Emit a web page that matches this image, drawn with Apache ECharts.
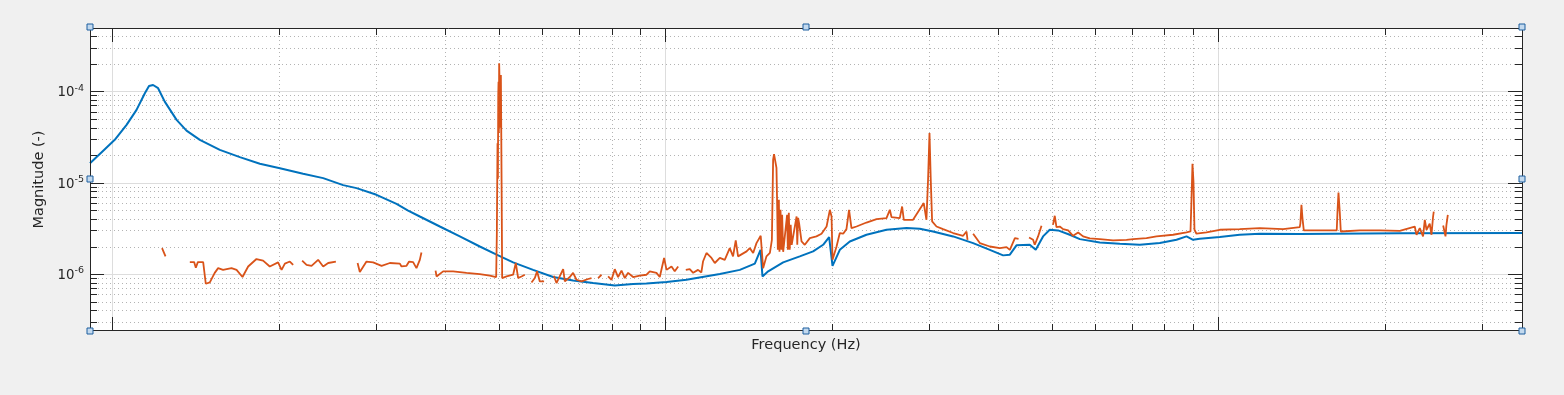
<!DOCTYPE html>
<html><head><meta charset="utf-8">
<script src="https://cdn.jsdelivr.net/npm/echarts@6/dist/echarts.min.js"></script>
<style>html,body{margin:0;padding:0;background:#f0f0f0;}#c{width:1564px;height:395px;}</style>
</head><body><div id="c"></div>
<script>
// ---------- data ----------
const blueFreq = [0.912, 0.970, 1.011, 1.062, 1.107, 1.146, 1.166, 1.186, 1.211, 1.245, 1.308, 1.363, 1.441, 1.566, 1.702, 1.850, 2.011, 2.215, 2.408, 2.617, 2.767, 3.007, 3.268, 3.430, 3.601, 3.914, 4.254, 4.623, 4.957, 5.311, 5.772, 6.273, 6.817, 7.410, 8.11, 8.75, 9.25, 10.06, 10.93, 12.56, 13.65, 14.53, 14.88, 15.00, 15.36, 16.35, 17.52, 18.52, 19.31, 19.80, 20.08, 20.70, 21.58, 23.13, 25.14, 27.33, 28.88, 30.52, 33.18, 36.06, 38.66, 40.86, 42.02, 43.19, 45.65, 46.80, 48.25, 49.61, 51.36, 53.93, 56.23, 61.11, 66.42, 72.18, 78.46, 84.12, 87.69, 90.13, 92.66, 100.7, 109.4, 119.0, 140.5, 213.1, 354.5];
const blueMag = [1.63e-5, 2.32e-5, 2.94e-5, 4.29e-5, 6.25e-5, 9.51e-5, 1.14e-4, 1.17e-4, 1.08e-4, 7.70e-5, 4.86e-5, 3.71e-5, 2.94e-5, 2.28e-5, 1.90e-5, 1.61e-5, 1.44e-5, 1.25e-5, 1.12e-5, 9.39e-6, 8.71e-6, 7.36e-6, 5.86e-6, 4.95e-6, 4.26e-6, 3.31e-6, 2.58e-6, 2.00e-6, 1.63e-6, 1.34e-6, 1.11e-6, 9.27e-7, 8.51e-7, 7.97e-7, 7.50e-7, 7.78e-7, 7.90e-7, 8.18e-7, 8.66e-7, 1.00e-6, 1.11e-6, 1.30e-6, 1.84e-6, 9.41e-7, 1.07e-6, 1.34e-6, 1.56e-6, 1.77e-6, 2.09e-6, 2.54e-6, 1.23e-6, 1.84e-6, 2.27e-6, 2.69e-6, 3.05e-6, 3.18e-6, 3.13e-6, 2.92e-6, 2.58e-6, 2.18e-6, 1.84e-6, 1.60e-6, 1.63e-6, 2.06e-6, 2.09e-6, 1.84e-6, 2.58e-6, 3.05e-6, 3.00e-6, 2.69e-6, 2.41e-6, 2.21e-6, 2.14e-6, 2.09e-6, 2.18e-6, 2.37e-6, 2.58e-6, 2.37e-6, 2.43e-6, 2.54e-6, 2.69e-6, 2.76e-6, 2.74e-6, 2.79e-6, 2.81e-6];

const orangeFreq = [
1.231, 1.249, null,
1.382, 1.407, 1.417, 1.429, 1.461, 1.477, 1.502, 1.533, 1.555, 1.587, 1.644, 1.679, 1.721, 1.762, 1.824, 1.875, 1.928, 1.996, 2.025, 2.053, 2.096, 2.125, null,
2.206, 2.247, 2.294, 2.358, 2.408, 2.459, 2.539, null,
2.779, 2.805, 2.884, 2.965, 3.071, 3.179, 3.314, 3.337, 3.407, 3.444, 3.502, 3.551, 3.601, 3.626, null,
3.845, 3.861, 3.968, 4.137, 4.374, 4.623, 4.819, 4.949, 4.963, 4.977, 4.985, 4.992, 4.998, 5.004, 5.011, 5.032, 5.040, 5.047, 5.062, 5.074, 5.168, 5.311, 5.370, 5.423, 5.499, 5.576, null,
5.733, 5.813, 5.868, 5.935, 6.042, null,
6.291, 6.362, 6.541, 6.587, 6.726, 6.817, 6.915, 7.061, 7.258, 7.361, null,
7.565, 7.674, null,
7.887, 8.000, 8.110, 8.222, 8.340, 8.456, 8.573, 8.753, 9.000, 9.256, 9.383, 9.647, 9.781, 9.958, 10.06, 10.27, 10.41, 10.56, null,
10.90, 11.08, 11.24, 11.47, 11.63, 11.71, 11.88, 12.13, 12.30, 12.56, 12.82, 13.09, 13.27, 13.42, 13.55, 14.04, 14.23, 14.43, 14.63, 14.89, 15.04, 15.25, 15.47,
15.60, 15.68, 15.74, 15.83, 15.90, 15.94, 15.99, 16.06, 16.10, 16.17, 16.23, 16.28, 16.35, 16.46, 16.62, 16.67, 16.74, 16.80, 16.87, 16.94, 17.04, 17.29, 17.34, 17.40,
17.47, 17.65, 17.89, 18.27, 18.78, 19.18, 19.59, 19.86, 20.00, 20.08, 20.42, 20.70, 20.99, 21.28, 21.51, 21.73, 22.19, 23.13, 24.12, 25.14, 25.49, 25.67, 26.57, 26.83, 27.02, 28.08, 29.36, 29.69, 29.89, 30.07, 30.23, 30.40, 30.96, 31.82, 33.18, 34.59, 35.08, 35.23, null,
36.06, 37.08, 38.66, 40.30, 41.45, 42.02, 42.91, 43.57, null,
45.52, 46.29, 46.61, 47.26, 47.94, null,
50.30, 50.66, 51.02, 51.73, 52.45, 53.56, 54.68, 55.84, 57.00, 58.61, 61.11, 64.58, 68.29, 70.21, 74.22, 77.38, 82.92, 87.69, 89.15, 89.52, 89.89, 90.26, 90.64, 91.39, 95.28, 100.7, 109.4, 119.0, 131.1, 140.5, 140.9, 141.5, 142.1, 142.9, 152.7, 163.9, 164.4, 165.1, 166.0, 166.7, 180.4, 196.1, 213.1, 226.8, 228.5, 231.6, 234.8, 236.5, 238.2, 241.4, 243.2, 244.8, 245.5, null,
255.3, 257.8, 258.8, 260.3];
const orangeMag = [
1.92e-6, 1.56e-6, null,
1.35e-6, 1.35e-6, 1.17e-6, 1.35e-6, 1.35e-6, 7.83e-7, 8.09e-7, 1.03e-6, 1.16e-6, 1.11e-6, 1.16e-6, 1.11e-6, 9.27e-7, 1.21e-6, 1.46e-6, 1.40e-6, 1.21e-6, 1.34e-6, 1.11e-6, 1.30e-6, 1.37e-6, 1.26e-6, null,
1.40e-6, 1.26e-6, 1.23e-6, 1.43e-6, 1.21e-6, 1.32e-6, 1.37e-6, null,
1.32e-6, 1.05e-6, 1.37e-6, 1.34e-6, 1.23e-6, 1.32e-6, 1.30e-6, 1.21e-6, 1.23e-6, 1.37e-6, 1.35e-6, 1.16e-6, 1.43e-6, 1.72e-6, null,
1.09e-6, 9.41e-7, 1.07e-6, 1.07e-6, 1.03e-6, 1.00e-6, 9.58e-7, 9.27e-7, 2.81e-6, 2.70e-5, 1.10e-5, 9.00e-5, 1.27e-4, 3.50e-5, 2.02e-4, 2.02e-4, 4.00e-5, 1.51e-4, 9.87e-6, 9.04e-7, 9.41e-7, 9.82e-7, 1.32e-6, 9.04e-7, 9.41e-7, 9.82e-7, null,
8.09e-7, 9.04e-7, 1.07e-6, 8.30e-7, 8.30e-7, null,
9.58e-7, 7.97e-7, 1.13e-6, 8.30e-7, 9.27e-7, 1.03e-6, 8.66e-7, 8.30e-7, 8.82e-7, 9.04e-7, null,
9.04e-7, 9.82e-7, null,
9.41e-7, 8.66e-7, 1.13e-6, 9.27e-7, 1.09e-6, 9.04e-7, 1.03e-6, 9.27e-7, 9.58e-7, 9.82e-7, 1.07e-6, 1.03e-6, 9.27e-7, 1.50e-6, 1.11e-6, 1.21e-6, 1.07e-6, 1.21e-6, null,
1.11e-6, 1.13e-6, 1.03e-6, 1.11e-6, 1.04e-6, 1.37e-6, 1.70e-6, 1.50e-6, 1.32e-6, 1.50e-6, 1.43e-6, 1.92e-6, 1.56e-6, 2.33e-6, 1.56e-6, 1.77e-6, 1.92e-6, 1.70e-6, 2.18e-6, 2.62e-6, 1.16e-6, 1.56e-6, 1.70e-6,
2.37e-6, 1.78e-5, 2.05e-5, 1.96e-5, 1.45e-5, 6.49e-6, 1.84e-6, 6.49e-6, 1.75e-6, 5.04e-6, 1.84e-6, 4.44e-6, 1.75e-6, 1.84e-6, 4.44e-6, 1.84e-6, 4.68e-6, 1.84e-6, 3.46e-6, 2.09e-6, 2.00e-6, 4.26e-6, 2.09e-6, 4.12e-6,
3.61e-6, 2.27e-6, 2.09e-6, 2.47e-6, 2.58e-6, 2.76e-6, 3.31e-6, 5.04e-6, 4.26e-6, 1.43e-6, 2.00e-6, 2.81e-6, 2.76e-6, 3.10e-6, 5.04e-6, 3.18e-6, 3.31e-6, 3.66e-6, 3.99e-6, 4.09e-6, 5.04e-6, 4.20e-6, 4.09e-6, 5.48e-6, 3.92e-6, 3.92e-6, 5.97e-6, 3.92e-6, 1.07e-5, 3.48e-5, 1.07e-5, 3.76e-6, 3.31e-6, 3.10e-6, 2.81e-6, 2.62e-6, 2.92e-6, 2.37e-6, null,
2.76e-6, 2.18e-6, 2.00e-6, 1.92e-6, 1.97e-6, 1.84e-6, 2.47e-6, 2.43e-6, null,
2.51e-6, 2.37e-6, 2.09e-6, 2.58e-6, 3.37e-6, null,
3.46e-6, 4.34e-6, 3.26e-6, 3.31e-6, 3.10e-6, 3.00e-6, 2.62e-6, 2.85e-6, 2.58e-6, 2.45e-6, 2.41e-6, 2.33e-6, 2.37e-6, 2.41e-6, 2.47e-6, 2.58e-6, 2.69e-6, 2.85e-6, 2.92e-6, 6.49e-6, 1.61e-5, 1.03e-5, 3.05e-6, 2.76e-6, 2.85e-6, 3.05e-6, 3.10e-6, 3.18e-6, 3.10e-6, 3.26e-6, 3.61e-6, 5.72e-6, 4.09e-6, 3.00e-6, 3.00e-6, 3.00e-6, 4.71e-6, 7.79e-6, 4.71e-6, 2.92e-6, 3.00e-6, 3.01e-6, 2.97e-6, 3.31e-6, 2.69e-6, 3.18e-6, 2.58e-6, 3.92e-6, 3.05e-6, 3.55e-6, 2.69e-6, 4.26e-6, 4.83e-6, null,
3.40e-6, 2.58e-6, 3.46e-6, 4.44e-6];

const xRange = [0.912, 354.5];
const yRange = [2.38e-7, 4.92e-4];
const xMajorTicks = [1, 10, 100];
const xMinorTicks = [2, 3, 4, 5, 6, 7, 8, 9, 20, 30, 40, 50, 60, 70, 80, 90, 200, 300];
const yMajorTicks = [1e-6, 1e-5, 1e-4];
const yTickExponents = ['-6', '-5', '-4'];
const yMinorTicks = [3e-7, 4e-7, 5e-7, 6e-7, 7e-7, 8e-7, 9e-7,
  2e-6, 3e-6, 4e-6, 5e-6, 6e-6, 7e-6, 8e-6, 9e-6,
  2e-5, 3e-5, 4e-5, 5e-5, 6e-5, 7e-5, 8e-5, 9e-5,
  2e-4, 3e-4, 4e-4];
const xLabel = 'Frequency (Hz)';
const yLabel = 'Magnitude (-)';

// ---------- styling / layout ----------
const FONT = 'DejaVu Sans';
const AX = '#262626';
const G = { left: 90, top: 28, width: 1432, height: 303 };

function crisp(v) { return Math.round(v) + 0.5; }

function gridLayer(params, api) {
  const cs = params.coordSys;
  const L = cs.x, R = cs.x + cs.width, T = cs.y, B = cs.y + cs.height;
  const ch = [];
  const minor = () => ({ stroke: '#b3b3b3', lineWidth: 1, lineDash: [1, 3] });
  const major = () => ({ stroke: '#dddddd', lineWidth: 1 });
  xMajorTicks.forEach(v => { const x = crisp(api.coord([v, yMajorTicks[0]])[0]); ch.push({ type: 'line', shape: { x1: x, y1: T, x2: x, y2: B }, style: major() }); });
  yMajorTicks.forEach(v => { const y = crisp(api.coord([xMajorTicks[0], v])[1]); ch.push({ type: 'line', shape: { x1: L, y1: y, x2: R, y2: y }, style: major() }); });
  xMinorTicks.forEach(v => { const x = crisp(api.coord([v, yMajorTicks[0]])[0]); ch.push({ type: 'line', shape: { x1: x, y1: T, x2: x, y2: B }, style: minor() }); });
  yMinorTicks.forEach(v => { const y = crisp(api.coord([xMajorTicks[0], v])[1]); ch.push({ type: 'line', shape: { x1: L, y1: y, x2: R, y2: y }, style: minor() }); });
  return { type: 'group', children: ch };
}

function frameLayer(params, api) {
  const cs = params.coordSys;
  const L = cs.x, R = cs.x + cs.width, T = cs.y, B = cs.y + cs.height;
  const ch = [];
  const st = () => ({ stroke: AX, lineWidth: 1 });
  const xt = (v, len) => { const x = crisp(api.coord([v, yMajorTicks[0]])[0]);
    ch.push({ type: 'line', shape: { x1: x, y1: B, x2: x, y2: B - len }, style: st() });
    ch.push({ type: 'line', shape: { x1: x, y1: T, x2: x, y2: T + len }, style: st() }); };
  const yt = (v, len) => { const y = crisp(api.coord([xMajorTicks[0], v])[1]);
    ch.push({ type: 'line', shape: { x1: L, y1: y, x2: L + len, y2: y }, style: st() });
    ch.push({ type: 'line', shape: { x1: R, y1: y, x2: R - len, y2: y }, style: st() }); };
  xMajorTicks.forEach(v => xt(v, 14));
  xMinorTicks.forEach(v => xt(v, 7));
  yMajorTicks.forEach(v => yt(v, 14));
  yMinorTicks.forEach(v => yt(v, 7));
  ch.push({ type: 'rect', shape: { x: L + 0.5, y: T + 0.5, width: cs.width, height: cs.height - 1 }, style: { fill: null, stroke: AX, lineWidth: 1 } });
  return { type: 'group', children: ch };
}

const handleSpots = [[0, 0], [0.5, 0], [1, 0], [0, 0.5], [1, 0.5], [0, 1], [0.5, 1], [1, 1]];
const handles = handleSpots.map(p => ({
  type: 'rect', z: 100, silent: true,
  shape: { x: Math.round(G.left + p[0] * G.width) - 3, y: Math.round(G.top - 1 + p[1] * (G.height + 1)) - 3, width: 6, height: 6 },
  style: { fill: '#c3d9ee', stroke: '#1c5f9f', lineWidth: 1 }
}));

const chart = echarts.init(document.getElementById('c'), null, { renderer: 'canvas' });
chart.setOption({
  backgroundColor: '#f0f0f0',
  animation: false,
  grid: { left: G.left, top: G.top, width: G.width, height: G.height, show: true, backgroundColor: '#ffffff', borderWidth: 0, containLabel: false, outerBoundsMode: 'none' },
  xAxis: {
    type: 'log', logBase: 10, min: xRange[0], max: xRange[1],
    axisLine: { show: false }, axisTick: { show: false }, axisLabel: { show: false },
    splitLine: { show: false }, minorTick: { show: false }, minorSplitLine: { show: false },
    name: xLabel, nameLocation: 'middle', nameGap: 7,
    nameTextStyle: { fontFamily: FONT, fontSize: 14.5, color: AX }
  },
  yAxis: {
    type: 'log', logBase: 10, min: yRange[0], max: yRange[1],
    axisLine: { show: false }, axisTick: { show: false },
    splitLine: { show: false }, minorTick: { show: false }, minorSplitLine: { show: false },
    axisLabel: {
      margin: 6,
      formatter: function (v) {
        for (let i = 0; i < yMajorTicks.length; i++) {
          if (Math.abs(v - yMajorTicks[i]) / yMajorTicks[i] < 1e-6) return '{b|10}{s|' + yTickExponents[i] + '}';
        }
        return '';
      },
      rich: {
        b: { fontFamily: FONT, fontSize: 13.3, color: AX, lineHeight: 16, verticalAlign: 'bottom' },
        s: { fontFamily: FONT, fontSize: 9.5, color: AX, lineHeight: 16, verticalAlign: 'top' }
      }
    },
    name: yLabel, nameLocation: 'middle', nameGap: 39,
    nameTextStyle: { fontFamily: FONT, fontSize: 14.5, color: AX }
  },
  graphic: handles,
  series: [
    { type: 'custom', renderItem: gridLayer, data: [[1, 1e-5]], z: 1, silent: true, clip: false },
    { type: 'line', name: 'blue', data: blueFreq.map((f, i) => [f, blueMag[i]]), showSymbol: false, symbol: 'none',
      lineStyle: { color: '#0072BD', width: 2 }, z: 2, silent: true, connectNulls: false },
    { type: 'line', name: 'orange', data: orangeFreq.map((f, i) => [f, orangeMag[i]]), showSymbol: false, symbol: 'none',
      lineStyle: { color: '#D95319', width: 1.8 }, z: 3, silent: true, connectNulls: false },
    { type: 'custom', renderItem: frameLayer, data: [[1, 1e-5]], z: 4, silent: true, clip: false }
  ]
});
</script></body></html>
